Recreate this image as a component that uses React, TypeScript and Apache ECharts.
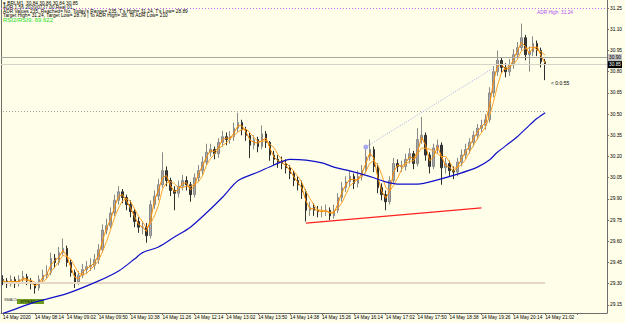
import React, { useEffect, useRef } from "react";
import * as echarts from "echarts";

// ---- data ----
const tickLabels = [
  "14 May 2020", "14 May 08:14", "14 May 09:02", "14 May 09:50", "14 May 10:38",
  "14 May 11:26", "14 May 12:14", "14 May 13:02", "14 May 13:50", "14 May 14:38",
  "14 May 15:26", "14 May 16:14", "14 May 17:02", "14 May 17:50", "14 May 18:38",
  "14 May 19:26", "14 May 20:14", "14 May 21:02",
];
const priceTicks = [29.15, 29.3, 29.45, 29.6, 29.75, 29.9, 30.05, 30.2, 30.35, 30.5, 30.65, 30.8, 30.95, 31.1, 31.25];

const firstOpen = 29.33;
const closes = [
  29.32, 29.30, 29.33, 29.30, 29.33, 29.35, 29.32, 29.30, 29.27, 29.33,
  29.36, 29.38, 29.48, 29.45, 29.52, 29.55, 29.45, 29.38, 29.31, 29.36,
  29.40, 29.42, 29.43, 29.47, 29.54, 29.68, 29.71, 29.80, 29.89, 29.95,
  29.91, 29.86, 29.81, 29.74, 29.70, 29.70, 29.64, 29.86, 29.92, 30.00,
  30.10, 30.03, 29.96, 29.94, 29.99, 30.03, 30.00, 29.93, 30.05, 30.10,
  30.16, 30.23, 30.25, 30.22, 30.30, 30.34, 30.32, 30.34, 30.40, 30.44,
  30.39, 30.35, 30.28, 30.32, 30.27, 30.36, 30.30, 30.21, 30.18, 30.16,
  30.15, 30.12, 30.08, 30.03, 30.00, 29.95, 29.82, 29.84, 29.82, 29.81,
  29.81, 29.82, 29.78, 29.82, 29.91, 29.98, 30.02, 30.06, 30.01, 30.06,
  30.10, 30.20, 30.25, 30.13, 29.98, 29.93, 29.88, 30.03, 30.15, 30.13,
  30.13, 30.18, 30.22, 30.15, 30.32, 30.35, 30.21, 30.13, 30.26, 30.28,
  30.12, 30.15, 30.10, 30.09, 30.16, 30.21, 30.25, 30.30, 30.35, 30.40,
  30.42, 30.46, 30.65, 30.80, 30.88, 30.83, 30.80, 30.85, 30.92, 30.97,
  31.04, 30.92, 30.94, 31.00, 30.95, 30.87, 30.85,
];
const highs = [
  29.36, 29.34, 29.36, 29.35, 29.36, 29.39, 29.37, 29.34, 29.31, 29.36,
  29.40, 29.43, 29.52, 29.51, 29.56, 29.62, 29.57, 29.47, 29.40, 29.39,
  29.44, 29.46, 29.48, 29.51, 29.58, 29.72, 29.76, 29.84, 29.93, 29.99,
  29.97, 29.93, 29.89, 29.83, 29.77, 29.74, 29.73, 29.89, 29.96, 30.04,
  30.23, 30.13, 30.05, 29.99, 30.03, 30.07, 30.06, 30.02, 30.08, 30.14,
  30.20, 30.29, 30.29, 30.27, 30.33, 30.38, 30.37, 30.38, 30.44, 30.51,
  30.46, 30.41, 30.37, 30.35, 30.34, 30.42, 30.38, 30.31, 30.24, 30.21,
  30.20, 30.18, 30.14, 30.10, 30.06, 30.03, 29.97, 29.88, 29.87, 29.85,
  29.85, 29.86, 29.84, 29.86, 29.94, 30.02, 30.06, 30.10, 30.08, 30.10,
  30.14, 30.27, 30.32, 30.27, 30.15, 30.01, 29.96, 30.06, 30.19, 30.18,
  30.17, 30.22, 30.26, 30.24, 30.40, 30.48, 30.37, 30.23, 30.29, 30.32,
  30.30, 30.19, 30.17, 30.13, 30.19, 30.25, 30.29, 30.33, 30.38, 30.43,
  30.46, 30.50, 30.69, 30.84, 30.95, 30.90, 30.86, 30.89, 30.96, 31.01,
  31.14, 31.06, 30.98, 31.05, 31.02, 30.97, 30.89,
];
const lows = [
  29.29, 29.27, 29.28, 29.27, 29.28, 29.31, 29.29, 29.26, 29.23, 29.25,
  29.31, 29.34, 29.36, 29.41, 29.43, 29.50, 29.42, 29.35, 29.27, 29.29,
  29.34, 29.37, 29.39, 29.40, 29.44, 29.52, 29.65, 29.69, 29.78, 29.86,
  29.87, 29.82, 29.77, 29.70, 29.66, 29.65, 29.59, 29.62, 29.83, 29.89,
  29.98, 29.99, 29.92, 29.82, 29.91, 29.96, 29.96, 29.88, 29.91, 30.02,
  30.07, 30.14, 30.20, 30.18, 30.19, 30.27, 30.28, 30.29, 30.31, 30.37,
  30.35, 30.31, 30.19, 30.25, 30.23, 30.25, 30.26, 30.17, 30.14, 30.12,
  30.11, 30.08, 30.04, 29.99, 29.96, 29.90, 29.74, 29.78, 29.78, 29.77,
  29.77, 29.78, 29.75, 29.76, 29.80, 29.88, 29.95, 29.99, 29.97, 29.98,
  30.03, 30.08, 30.17, 30.09, 29.94, 29.89, 29.82, 29.86, 30.01, 30.09,
  30.09, 30.10, 30.15, 30.11, 30.13, 30.29, 30.17, 30.08, 30.11, 30.22,
  30.00, 30.08, 30.06, 30.04, 30.06, 30.13, 30.18, 30.22, 30.27, 30.32,
  30.37, 30.39, 30.44, 30.62, 30.77, 30.79, 30.76, 30.77, 30.82, 30.89,
  30.95, 30.88, 30.80, 30.91, 30.91, 30.83, 30.74,
];
// slow moving average (blue), read at bar indices
const blueIdx = [0, 2, 8, 16, 24, 29, 33, 35, 39, 43, 47, 51, 55, 59, 64, 68, 72, 76, 80, 83, 86, 90, 93, 96, 99, 104, 109, 114, 119, 122, 124, 127, 129, 132, 134, 136];
const blueVal = [29.09, 29.11, 29.17, 29.23, 29.32, 29.39, 29.475, 29.52, 29.56, 29.63, 29.70, 29.80, 29.91, 30.03, 30.09, 30.14, 30.18, 30.175, 30.155, 30.125, 30.105, 30.075, 30.05, 30.02, 30.005, 30.005, 30.035, 30.075, 30.125, 30.175, 30.23, 30.295, 30.34, 30.42, 30.47, 30.51];

const totalSlots = 152;
const bgColor = "#fffee9";
const font = "Liberation Sans";

function sma(arr: number[], n: number) {
  return arr.map((_, i) => {
    const s = Math.max(0, i - n + 1);
    const w = arr.slice(s, i + 1);
    return +(w.reduce((a, b) => a + b, 0) / w.length).toFixed(4);
  });
}

export default function App() {
  const ref = useRef<HTMLDivElement>(null);
  useEffect(() => {
    if (!ref.current) return;
    const chart = echarts.init(ref.current, null, { renderer: "svg" });
    const categories = Array.from({ length: totalSlots }, (_, i) => String(i));
    const candles: any[] = categories.map((_, i) =>
      i < closes.length
        ? [i === 0 ? firstOpen : closes[i - 1], closes[i], lows[i], highs[i]]
        : "-"
    );
    const ma1 = sma(closes, 2);
    const ma2 = sma(closes, 4);
    const blue = blueIdx.map((ix, k) => [ix, blueVal[k]]);
    const last = closes.length - 1;

    chart.setOption({
      animation: false,
      backgroundColor: bgColor,
      grid: { left: 0, right: 17, top: 0, bottom: 10, containLabel: false },
      xAxis: {
        type: "category",
        data: categories,
        boundaryGap: true,
        axisLine: { show: true, lineStyle: { color: "#6e6e6e", width: 1 } },
        axisTick: { show: true, interval: 7, alignWithLabel: true, length: 2, lineStyle: { color: "#6e6e6e" } },
        axisLabel: {
          interval: 7,
          align: "left",
          margin: 2,
          fontSize: 4.8,
          fontFamily: font,
          color: "#000",
          formatter: (_v: string, idx: number) => tickLabels[idx / 8] ?? "",
        },
        splitLine: { show: false },
      },
      yAxis: [
        {
          type: "value",
          position: "right",
          min: 29.093,
          max: 31.307,
          axisLine: { show: true, lineStyle: { color: "#6e6e6e", width: 1 } },
          axisTick: { show: true, length: 2, customValues: priceTicks, lineStyle: { color: "#6e6e6e" } },
          axisLabel: {
            customValues: priceTicks,
            fontSize: 4.8,
            fontFamily: font,
            color: "#000",
            margin: 3,
            formatter: (v: number) => v.toFixed(2),
          },
          splitLine: { show: false },
        },
        {
          type: "value",
          position: "left",
          min: 29.093,
          max: 31.307,
          axisLine: { show: true, lineStyle: { color: "#6e6e6e", width: 1 } },
          axisTick: { show: false },
          axisLabel: { show: false },
          splitLine: { show: false },
        },
      ],
      series: [
        {
          type: "candlestick",
          data: candles,
          barWidth: 2,
          itemStyle: {
            color: "#a8a8a8",
            color0: "#3c3c3c",
            borderColor: "#8a8a8a",
            borderColor0: "#2e2e2e",
            borderWidth: 1,
          },
          markLine: {
            silent: true,
            symbol: "none",
            animation: false,
            label: { show: false },
            data: [
              {
                yAxis: 31.245,
                lineStyle: { color: "#c070f0", type: [1, 2], width: 1 },
              },
              {
                yAxis: 30.90,
                lineStyle: { color: "#a8a8a0", type: "solid", width: 1 },
                label: {
                  show: true, position: "end", distance: 1, formatter: "30.90",
                  backgroundColor: "#c4c4c4", color: "#000", fontSize: 4.8, fontFamily: font, padding: [1, 1],
                },
              },
              {
                yAxis: 30.85,
                lineStyle: { color: "#d6d4c8", type: "solid", width: 1 },
                label: {
                  show: true, position: "end", distance: 1, formatter: "30.85",
                  backgroundColor: "#000", color: "#fff", fontSize: 4.8, fontFamily: font, padding: [1, 1],
                },
              },
              [
                { coord: [0, 30.52], lineStyle: { color: "#a0a0a0", type: [1, 2], width: 1 } },
                { coord: [last, 30.52] },
              ],
              [
                { coord: [0, 29.31], lineStyle: { color: "#e6d7c3", type: "solid", width: 2 } },
                { coord: [last, 29.31] },
              ],
              [
                { coord: [76, 29.729], lineStyle: { color: "#ff2020", type: "solid", width: 1.2 } },
                { coord: [120, 29.836] },
              ],
              [
                {
                  coord: [91, 30.267],
                  symbol: "circle",
                  symbolSize: 5,
                  lineStyle: { color: "#a8a8f0", type: [1, 1.5], width: 1 },
                },
                { coord: [123, 30.826], symbol: "none" },
              ],
            ],
          },
        },
        {
          type: "line",
          data: ma2,
          showSymbol: false,
          lineStyle: { color: "#ffa528", width: 1 },
          z: 3,
        },
        {
          type: "line",
          data: ma1,
          showSymbol: false,
          lineStyle: { color: "#ff8c00", width: 1 },
          z: 4,
        },
        {
          type: "line",
          data: blue,
          showSymbol: false,
          smooth: 0.3,
          lineStyle: { color: "#1010c8", width: 1.2 },
          z: 5,
        },
      ],
      graphic: [
        { type: "text", left: 3, top: 0.5, style: { text: "\u25BE BRLM1  30.84 30.86 30.84 30.85", fontSize: 4.8, fontFamily: font, fill: "#000" } },
        { type: "text", left: 3, top: 4.8, style: { text: "ADR 1.56 2020/0727.00 Real 01", fontSize: 4.8, fontFamily: font, fill: "#000" } },
        { type: "text", left: 3, top: 9, style: { text: "ADR Values 235, Reached= No, Today's Range= 235, T's High= 31.24, T's Low= 28.89", fontSize: 4.8, fontFamily: font, fill: "#000" } },
        { type: "text", left: 3, top: 13.2, style: { text: "Target High= 31.24, Target Low= 28.79 | To ADR High= 38, To ADR Low= 210", fontSize: 4.8, fontFamily: font, fill: "#000" } },
        { type: "text", left: 3, top: 17.4, style: { text: "RSI2/RSI9: 69.622", fontSize: 6, fontFamily: font, fill: "#22dd22" } },
        { type: "text", left: 537, top: 9.5, style: { text: "ADR High  31.24", fontSize: 4.8, fontFamily: font, fill: "#b050f0" } },
        { type: "text", left: 551, top: 80, style: { text: "< 0:0:55", fontSize: 5, fontFamily: font, fill: "#000" } },
        { type: "rect", left: 17, top: 299, shape: { width: 27, height: 5 }, style: { fill: "#6c9a1c" } },
        { type: "text", left: 4, top: 298, style: { text: "SMAC5", fontSize: 3.8, fontFamily: font, fill: "#333" } },
        { type: "text", left: 20, top: 299.6, style: { text: "SPREAD", fontSize: 3.8, fontFamily: font, fill: "#1a2a08" } },
      ],
    });
    return () => chart.dispose();
  }, []);
  return (
    <div
      ref={ref}
      style={{ position: "fixed", left: 0, top: 0, width: 625, height: 323 }}
    />
  );
}
